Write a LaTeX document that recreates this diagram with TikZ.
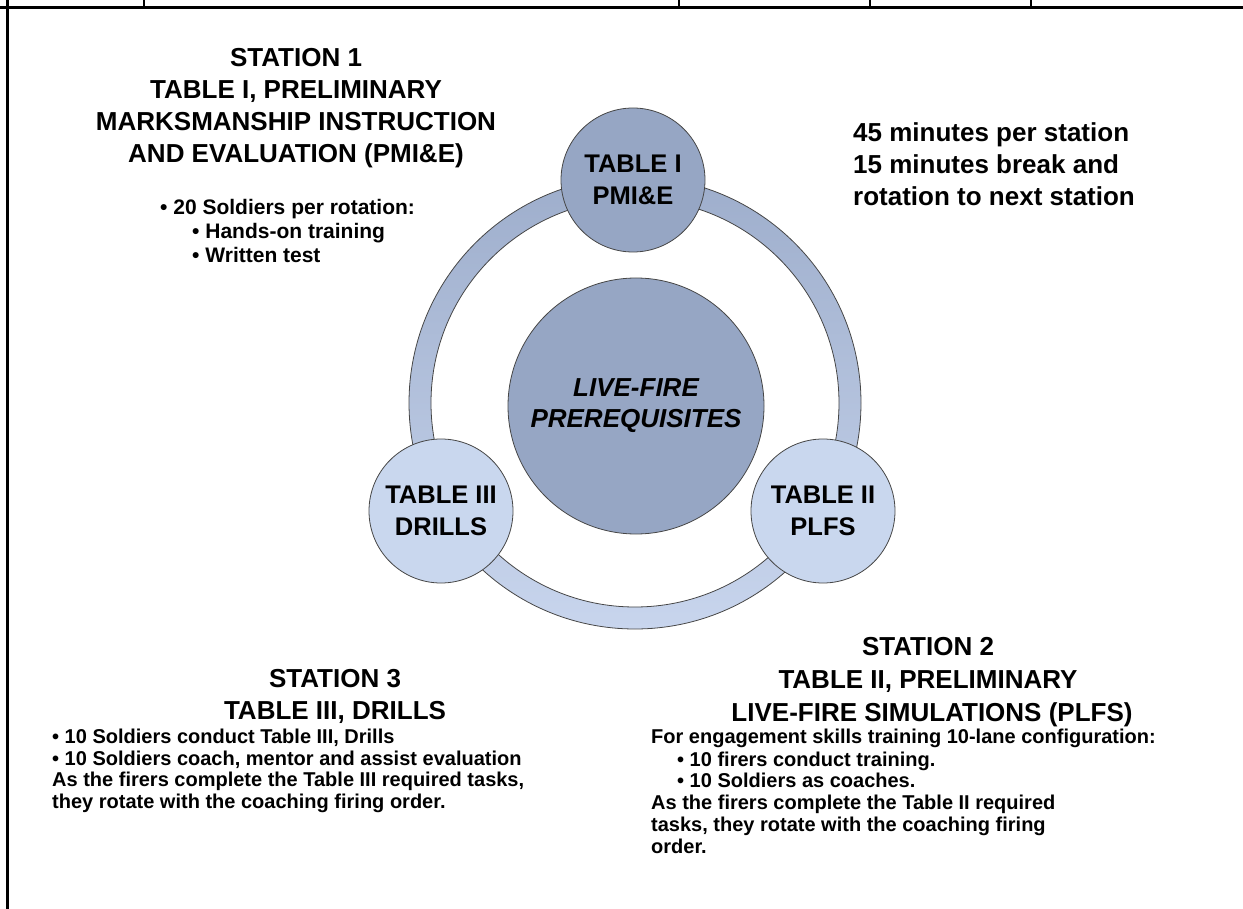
\documentclass[tikz,border=0pt]{standalone}
\usepackage{fontspec}
\setmainfont{Liberation Sans}
\definecolor{darkfill}{RGB}{150,166,196}
\definecolor{lightfill}{RGB}{201,215,238}
\definecolor{ringtop}{RGB}{158,174,204}
\definecolor{ringbot}{RGB}{200,213,237}
\definecolor{edgegray}{RGB}{70,70,70}
\begin{document}
\begin{tikzpicture}[x=1pt,y=-1pt,
  hd/.style={font=\fontsize{26}{31}\selectfont\bfseries, inner sep=0pt, anchor=base},
  bd/.style={font=\fontsize{20}{24}\selectfont\bfseries, inner sep=0pt, anchor=base west},
  bdb/.style={font=\fontsize{21}{25}\selectfont\bfseries, inner sep=0pt, anchor=base west},
  tbl/.style={circle, draw=edgegray, line width=0.8pt, minimum size=144pt, inner sep=0pt,
              align=center, font=\fontsize{25.5}{32}\selectfont\bfseries},
  frame/.style={line width=3pt, black},
  cell/.style={line width=2pt, black}]
\useasboundingbox (0,0) rectangle (1243,909);

% frame
\coordinate (fl0) at (7,0);
\coordinate (fl1) at (7,909);
\coordinate (ft0) at (0,8);
\coordinate (ft1) at (1243,8);
\draw[frame] (fl0) -- (fl1);
\draw[frame] (ft0) -- (ft1);
\foreach \xx/\nm in {144/c1,679/c2,870/c3,1031/c4}{
  \coordinate (\nm a) at (\xx,0);
  \coordinate (\nm b) at (\xx,8);
  \draw[cell] (\nm a) -- (\nm b);
}

% ring
\coordinate (ctr) at (635,403);
\shade[top color=ringtop, bottom color=ringbot, even odd rule]
  (ctr) circle[radius=226pt] (ctr) circle[radius=204pt];
\draw[edgegray, line width=0.8pt] (ctr) circle[radius=226pt];
\draw[edgegray, line width=0.8pt] (ctr) circle[radius=204pt];

% centre circle
\node[circle, draw=edgegray, line width=0.8pt, fill=darkfill, minimum size=256pt, inner sep=0pt,
      align=center, font=\fontsize{26}{31}\selectfont\bfseries\itshape] (core) at (636,406)
      {LIVE-FIRE\\PREREQUISITES};

% table circles
\node[tbl, fill=darkfill] (t1) at (633,180) {TABLE I\\PMI\&E};
\node[tbl, fill=lightfill] (t3) at (441,511) {TABLE III\\DRILLS};
\node[tbl, fill=lightfill] (t2) at (823,511) {TABLE II\\PLFS};

% station 1
\node[hd] (s1a) at (296,67) {STATION 1};
\node[hd] (s1b) at (296,99) {TABLE I, PRELIMINARY};
\node[hd] (s1c) at (296,131) {MARKSMANSHIP INSTRUCTION};
\node[hd] (s1d) at (296,163) {AND EVALUATION (PMI\&E)};
\node[bdb] (s1e) at (160,214.5) {• 20 Soldiers per rotation:};
\node[bdb] (s1f) at (192,238.5) {• Hands-on training};
\node[bdb] (s1g) at (192,262.5) {• Written test};

% timing
\node[hd, anchor=base west] (tm1) at (853,142) {45 minutes per station};
\node[hd, anchor=base west] (tm2) at (853,174) {15 minutes break and};
\node[hd, anchor=base west] (tm3) at (853,206) {rotation to next station};

% station 3
\node[hd] (s3a) at (335,687) {STATION 3};
\node[hd] (s3b) at (335,719) {TABLE III, DRILLS};
\node[bd] (s3c) at (52,743) {• 10 Soldiers conduct Table III, Drills};
\node[bd] (s3d) at (52,765) {• 10 Soldiers coach, mentor and assist evaluation};
\node[bd] (s3e) at (52,786) {As the firers complete the Table III required tasks,};
\node[bd] (s3f) at (52,808) {they rotate with the coaching firing order.};

% station 2
\node[hd] (s2a) at (928,655) {STATION 2};
\node[hd] (s2b) at (928,688) {TABLE II, PRELIMINARY};
\node[hd] (s2c) at (932,721) {LIVE-FIRE SIMULATIONS (PLFS)};
\node[bd] (s2d) at (651,743) {For engagement skills training 10-lane configuration:};
\node[bd] (s2e) at (677,766) {• 10 firers conduct training.};
\node[bd] (s2f) at (677,787) {• 10 Soldiers as coaches.};
\node[bd] (s2g) at (651,809) {As the firers complete the Table II required};
\node[bd] (s2h) at (651,831) {tasks, they rotate with the coaching firing};
\node[bd] (s2i) at (651,853) {order.};
\end{tikzpicture}
\end{document}
